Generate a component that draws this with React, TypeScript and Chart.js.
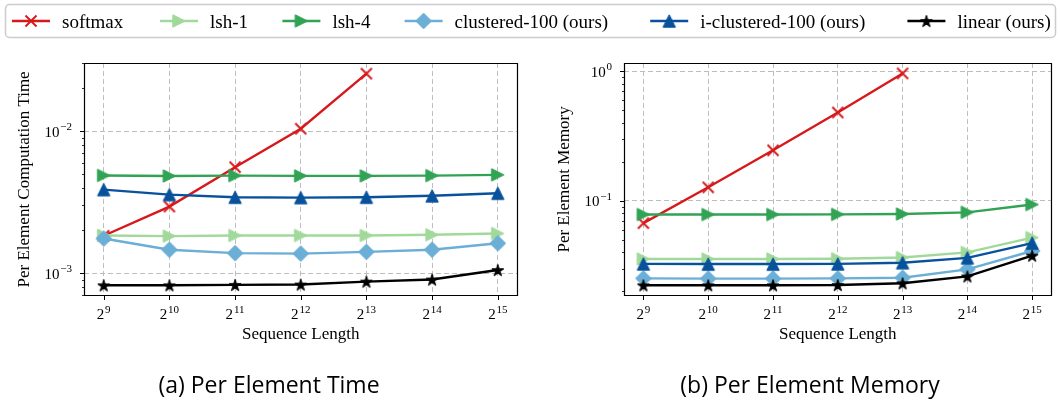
import React, { useEffect, useRef } from 'react';
import { Chart, registerables } from 'chart.js';

Chart.register(...registerables);

const SERIF = '"Liberation Serif", "Times New Roman", serif';
const SANS = '"Open Sans", "Noto Sans", sans-serif';

// ---------- data ----------
const seqLengths = [512, 1024, 2048, 4096, 8192, 16384, 32768];
const xTickBase = '2';
const xTickExponents = ['9', '10', '11', '12', '13', '14', '15'];

const seriesNames = ['softmax', 'lsh-1', 'lsh-4', 'clustered-100 (ours)', 'i-clustered-100 (ours)', 'linear (ours)'];
const seriesColors = ['#d7191c', '#a1d99b', '#31a354', '#6baed6', '#08519c', '#000000'];
const seriesMarkers = ['x', '>', '>', 'D', '^', '*'];

// (a) per element time
const timeSoftmax = [1.83e-3, 2.94e-3, 5.57e-3, 1.04e-2, 2.54e-2];
const timeLsh1 = [1.84e-3, 1.82e-3, 1.84e-3, 1.84e-3, 1.84e-3, 1.86e-3, 1.9e-3];
const timeLsh4 = [4.87e-3, 4.83e-3, 4.86e-3, 4.84e-3, 4.84e-3, 4.86e-3, 4.92e-3];
const timeClustered = [1.75e-3, 1.46e-3, 1.38e-3, 1.37e-3, 1.41e-3, 1.46e-3, 1.62e-3];
const timeIClustered = [3.87e-3, 3.57e-3, 3.42e-3, 3.4e-3, 3.42e-3, 3.5e-3, 3.65e-3];
const timeLinear = [8.2e-4, 8.2e-4, 8.25e-4, 8.3e-4, 8.7e-4, 9.0e-4, 1.05e-3];

// (b) per element memory
const memSoftmax = [0.0672, 0.127, 0.245, 0.48, 0.96];
const memLsh1 = [0.0356, 0.0356, 0.0356, 0.0357, 0.0365, 0.04, 0.052];
const memLsh4 = [0.0783, 0.0783, 0.0783, 0.0785, 0.079, 0.0814, 0.0936];
const memClustered = [0.0252, 0.0251, 0.0251, 0.0252, 0.0255, 0.0296, 0.041];
const memIClustered = [0.0326, 0.0325, 0.0325, 0.0326, 0.0333, 0.0363, 0.0472];
const memLinear = [0.0223, 0.0223, 0.0223, 0.0224, 0.0231, 0.0261, 0.0378];

const timeYTicks = [1e-3, 1e-2];
const timeYExponents = ['\u22123', '\u22122'];
const memYTicks = [0.1, 1];
const memYExponents = ['\u22121', '0'];
const yTickBase = '10';

const timeYRange = [6.91e-4, 0.0302];
const memYRange = [0.0185, 1.155];
const xRange = [Math.pow(2, 8.7), Math.pow(2, 15.3)];

const xTitle = 'Sequence Length';
const timeYTitle = 'Per Element Computation Time';
const memYTitle = 'Per Element Memory';
const timeCaption = '(a) Per Element Time';
const memCaption = '(b) Per Element Memory';

// ---------- helpers ----------
function makeMarker(kind: string, color: string): HTMLCanvasElement {
  const c = document.createElement('canvas');
  const s = 20;
  c.width = s;
  c.height = s;
  const ctx = c.getContext('2d')!;
  const m = s / 2;
  ctx.fillStyle = color;
  ctx.strokeStyle = color;
  ctx.lineJoin = 'miter';
  ctx.beginPath();
  if (kind === 'x') {
    const r = 5.5;
    ctx.lineWidth = 1.9;
    ctx.moveTo(m - r, m - r);
    ctx.lineTo(m + r, m + r);
    ctx.moveTo(m + r, m - r);
    ctx.lineTo(m - r, m + r);
    ctx.stroke();
    return c;
  }
  if (kind === '>') {
    const r = 6.2;
    ctx.moveTo(m - r, m - r);
    ctx.lineTo(m + r, m);
    ctx.lineTo(m - r, m + r);
  } else if (kind === '^') {
    const r = 6.2;
    ctx.moveTo(m, m - r);
    ctx.lineTo(m + r, m + r);
    ctx.lineTo(m - r, m + r);
  } else if (kind === 'D') {
    const r = 7.8;
    ctx.moveTo(m, m - r);
    ctx.lineTo(m + r, m);
    ctx.lineTo(m, m + r);
    ctx.lineTo(m - r, m);
  } else if (kind === '*') {
    const R = 6.3;
    for (let k = 0; k < 10; k++) {
      const ang = -Math.PI / 2 + (k * Math.PI) / 5;
      const rr = k % 2 === 0 ? R : R * 0.382;
      const px = m + rr * Math.cos(ang);
      const py = m + 0.7 + rr * Math.sin(ang);
      if (k === 0) ctx.moveTo(px, py);
      else ctx.lineTo(px, py);
    }
  }
  ctx.closePath();
  ctx.fill();
  ctx.lineWidth = 1;
  ctx.stroke();
  return c;
}

function drawPow(ctx: CanvasRenderingContext2D, base: string, exp: string, x: number, yBase: number, align: string) {
  ctx.font = `15px ${SERIF}`;
  const w1 = ctx.measureText(base).width;
  ctx.font = `11px ${SERIF}`;
  const w2 = ctx.measureText(exp).width;
  const gap = 0.8;
  const total = w1 + gap + w2;
  const x0 = align === 'center' ? x - total / 2 : x - total;
  ctx.textAlign = 'left';
  ctx.textBaseline = 'alphabetic';
  ctx.fillStyle = '#000';
  ctx.font = `15px ${SERIF}`;
  ctx.fillText(base, x0, yBase);
  ctx.font = `11px ${SERIF}`;
  ctx.fillText(exp, x0 + w1 + gap, yBase - 6.5);
}

const axesPlugin = {
  id: 'mplAxes',
  afterDraw(chart: any, _args: any, opts: any) {
    const { ctx, chartArea: a } = chart;
    const xs = chart.scales.x;
    const ys = chart.scales.y;
    const x1 = Math.round(a.left) + 0.5;
    const x2 = Math.round(a.right) - 0.5;
    const y1 = Math.round(a.top) + 0.5;
    const y2 = Math.round(a.bottom) - 0.5;
    ctx.save();
    ctx.strokeStyle = '#000';
    ctx.lineWidth = 1.2;
    ctx.setLineDash([]);
    ctx.beginPath();
    ctx.rect(x1, y1, x2 - x1, y2 - y1);
    ctx.stroke();
    ctx.lineWidth = 1;
    // x ticks
    ctx.beginPath();
    opts.xTicks.forEach((v: number) => {
      const px = Math.round(xs.getPixelForValue(v)) + 0.5;
      ctx.moveTo(px, y2);
      ctx.lineTo(px, y2 + 4.5);
    });
    // y major ticks
    opts.yTicks.forEach((v: number) => {
      const py = Math.round(ys.getPixelForValue(v)) + 0.5;
      ctx.moveTo(x1, py);
      ctx.lineTo(x1 - 4.5, py);
    });
    ctx.stroke();
    // y minor ticks
    ctx.beginPath();
    ctx.lineWidth = 0.8;
    const lo = Math.floor(Math.log10(ys.min));
    const hi = Math.ceil(Math.log10(ys.max));
    for (let e = lo; e <= hi; e++) {
      for (let k = 2; k <= 9; k++) {
        const v = k * Math.pow(10, e);
        if (v < ys.min || v > ys.max) continue;
        const py = Math.round(ys.getPixelForValue(v)) + 0.5;
        ctx.moveTo(x1, py);
        ctx.lineTo(x1 - 2.5, py);
      }
    }
    ctx.stroke();
    // labels
    opts.xTicks.forEach((v: number, i: number) => {
      drawPow(ctx, opts.xBase, opts.xExps[i], xs.getPixelForValue(v), a.bottom + 23.5, 'center');
    });
    opts.yTicks.forEach((v: number, i: number) => {
      drawPow(ctx, opts.yBase, opts.yExps[i], a.left - 12, ys.getPixelForValue(v) + 5.5, 'right');
    });
    ctx.restore();
  },
};

const legendPlugin = {
  id: 'mplLegend',
  afterDraw(chart: any, _args: any, opts: any) {
    const ctx = chart.ctx as CanvasRenderingContext2D;
    ctx.save();
    const [bx, by, bw, bh] = opts.box;
    const r = 4;
    ctx.beginPath();
    ctx.moveTo(bx + r, by);
    ctx.lineTo(bx + bw - r, by);
    ctx.arcTo(bx + bw, by, bx + bw, by + r, r);
    ctx.lineTo(bx + bw, by + bh - r);
    ctx.arcTo(bx + bw, by + bh, bx + bw - r, by + bh, r);
    ctx.lineTo(bx + r, by + bh);
    ctx.arcTo(bx, by + bh, bx, by + bh - r, r);
    ctx.lineTo(bx, by + r);
    ctx.arcTo(bx, by, bx + r, by, r);
    ctx.closePath();
    ctx.fillStyle = '#ffffff';
    ctx.fill();
    ctx.strokeStyle = '#cccccc';
    ctx.lineWidth = 1.5;
    ctx.stroke();
    chart.data.datasets.forEach((ds: any, i: number) => {
      const x0 = opts.lineStarts[i];
      const y = opts.lineY;
      ctx.beginPath();
      ctx.strokeStyle = ds.borderColor;
      ctx.lineWidth = ds.borderWidth;
      ctx.moveTo(x0, y);
      ctx.lineTo(x0 + opts.lineLength, y);
      ctx.stroke();
      const img = ds.pointStyle as HTMLCanvasElement;
      ctx.drawImage(img, x0 + opts.lineLength / 2 - img.width / 2, y - img.height / 2);
      ctx.fillStyle = '#000';
      ctx.font = `19px ${SERIF}`;
      ctx.textAlign = 'left';
      ctx.textBaseline = 'alphabetic';
      ctx.fillText(ds.label, x0 + opts.textOffset, opts.textBaseline);
    });
    ctx.restore();
  },
};

function buildDatasets(series: number[][], markers: HTMLCanvasElement[]) {
  return series.map((vals, i) => ({
    label: seriesNames[i],
    data: vals.map((v, j) => ({ x: seqLengths[j], y: v })),
    borderColor: seriesColors[i],
    backgroundColor: seriesColors[i],
    borderWidth: 2.4,
    pointStyle: markers[i],
    pointRadius: 6,
    pointHoverRadius: 6,
    tension: 0,
    order: series.length - i,
  }));
}

function plotConfig(p: any, markers: HTMLCanvasElement[]): any {
  const gridCommon = { color: '#bdbdbd', lineWidth: 1, drawTicks: false };
  return {
    type: 'line',
    data: { datasets: buildDatasets(p.series, markers) },
    plugins: [axesPlugin],
    options: {
      responsive: false,
      animation: false,
      devicePixelRatio: 1,
      events: [],
      layout: { padding: { top: 23, bottom: 2.6, left: p.padLeft, right: 0 } },
      scales: {
        x: {
          type: 'logarithmic',
          min: xRange[0],
          max: xRange[1],
          afterBuildTicks: (s: any) => {
            s.ticks = seqLengths.map((v) => ({ value: v }));
          },
          afterFit: (s: any) => {
            s.height = 60;
          },
          ticks: { display: false },
          grid: gridCommon,
          border: { display: false, dash: [5, 3] },
          title: {
            display: true,
            text: xTitle,
            color: '#000',
            font: { family: SERIF, size: 17 },
            padding: { top: 0, bottom: 10.8 },
          },
        },
        y: {
          type: 'logarithmic',
          position: 'left',
          min: p.yRange[0],
          max: p.yRange[1],
          afterBuildTicks: (s: any) => {
            s.ticks = p.yTicks.map((v: number) => ({ value: v }));
          },
          afterFit: (s: any) => {
            s.width = p.yAxisWidth;
          },
          ticks: { display: false },
          grid: gridCommon,
          border: { display: false, dash: [5, 3] },
          title: {
            display: true,
            text: p.yTitle,
            color: '#000',
            font: { family: SERIF, size: 17 },
            padding: { top: p.yTitlePad, bottom: 0 },
          },
        },
        yR: {
          type: 'linear',
          position: 'right',
          display: true,
          afterFit: (s: any) => {
            s.width = p.rightWidth;
          },
          ticks: { display: false },
          grid: { display: false, drawTicks: false },
          border: { display: false },
        },
      },
      plugins: {
        legend: { display: false },
        tooltip: { enabled: false },
        title: {
          display: true,
          position: 'bottom',
          text: p.caption,
          color: '#000',
          font: { family: SANS, size: 23, weight: 'normal' },
          padding: { top: 17, bottom: 0 },
        },
        mplAxes: {
          xTicks: seqLengths,
          xBase: xTickBase,
          xExps: xTickExponents,
          yTicks: p.yTicks,
          yBase: yTickBase,
          yExps: p.yExps,
        },
      },
    },
  };
}

function legendConfig(markers: HTMLCanvasElement[]): any {
  return {
    type: 'line',
    data: {
      datasets: seriesNames.map((n, i) => ({
        label: n,
        data: [],
        borderColor: seriesColors[i],
        backgroundColor: seriesColors[i],
        borderWidth: 2.4,
        pointStyle: markers[i],
      })),
    },
    plugins: [legendPlugin],
    options: {
      responsive: false,
      animation: false,
      devicePixelRatio: 1,
      events: [],
      scales: { x: { display: false }, y: { display: false } },
      plugins: {
        legend: { display: false },
        tooltip: { enabled: false },
        mplLegend: {
          box: [5.5, 4.5, 1050, 33],
          lineStarts: [12, 160, 282.4, 404.6, 650.2, 907.4],
          lineLength: 38,
          lineY: 21,
          textOffset: 50,
          textBaseline: 27.5,
        },
      },
    },
  };
}

export default function App() {
  const legendRef = useRef<HTMLCanvasElement>(null);
  const leftRef = useRef<HTMLCanvasElement>(null);
  const rightRef = useRef<HTMLCanvasElement>(null);

  useEffect(() => {
    document.body.style.margin = '0';
    const markers = seriesMarkers.map((m, i) => makeMarker(m, seriesColors[i]));
    const charts: Chart[] = [];
    charts.push(new Chart(legendRef.current!, legendConfig(markers)));
    charts.push(
      new Chart(
        leftRef.current!,
        plotConfig(
          {
            series: [timeSoftmax, timeLsh1, timeLsh4, timeClustered, timeIClustered, timeLinear],
            yRange: timeYRange,
            yTicks: timeYTicks,
            yExps: timeYExponents,
            yTitle: timeYTitle,
            caption: timeCaption,
            padLeft: 0,
            yAxisWidth: 84,
            rightWidth: 20.5,
            yTitlePad: 14,
          },
          markers
        )
      )
    );
    charts.push(
      new Chart(
        rightRef.current!,
        plotConfig(
          {
            series: [memSoftmax, memLsh1, memLsh4, memClustered, memIClustered, memLinear],
            yRange: memYRange,
            yTicks: memYTicks,
            yExps: memYExponents,
            yTitle: memYTitle,
            caption: memCaption,
            padLeft: 15,
            yAxisWidth: 64,
            rightWidth: 3,
            yTitlePad: -6,
          },
          markers
        )
      )
    );
    return () => charts.forEach((c) => c.destroy());
  }, []);

  return (
    <div style={{ position: 'absolute', left: 0, top: 0, width: 1060, height: 403, background: '#fff' }}>
      <canvas ref={legendRef} width={1060} height={40} style={{ position: 'absolute', left: 0, top: 0, width: 1060, height: 40 }} />
      <canvas ref={leftRef} width={538} height={363} style={{ position: 'absolute', left: 0, top: 40, width: 538, height: 363 }} />
      <canvas ref={rightRef} width={515} height={363} style={{ position: 'absolute', left: 545, top: 40, width: 515, height: 363 }} />
    </div>
  );
}
